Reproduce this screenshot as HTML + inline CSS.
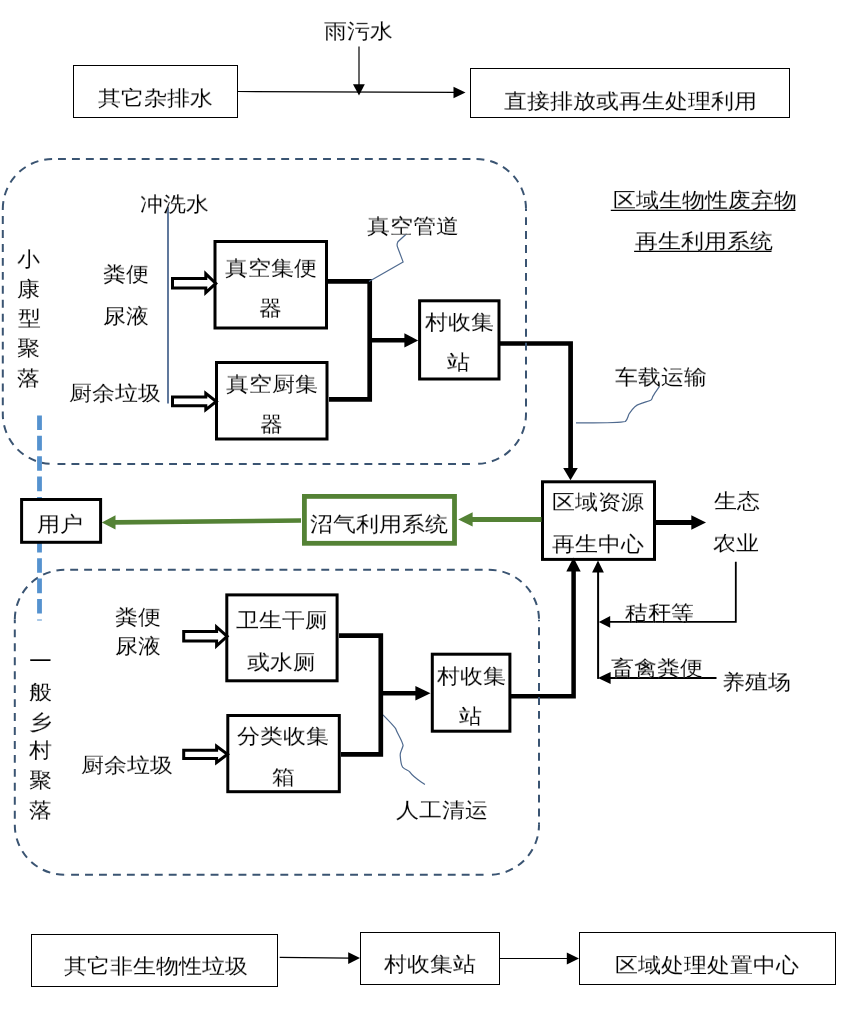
<!DOCTYPE html>
<html><head><meta charset="utf-8"><style>
html,body{margin:0;padding:0;background:#fff;}
body{width:862px;height:1012px;position:relative;overflow:hidden;}
svg{position:absolute;left:0;top:0;}
.t{position:absolute;font-family:"Liberation Sans",sans-serif;font-size:23px;line-height:1;white-space:nowrap;transform-origin:0 0;transform:scaleY(0.9);color:#000;-webkit-text-stroke:0.1px #fff;will-change:transform;}
</style></head><body>
<svg width="862" height="1012" viewBox="0 0 862 1012">
<!-- dashed group outlines -->
<!-- blue thick dashed vertical -->

<!-- top row -->
<rect x="73.5" y="65.5" width="164" height="52" fill="#fff" stroke="#000" stroke-width="1"/>
<rect x="470.5" y="68.5" width="319" height="49" fill="#fff" stroke="#000" stroke-width="1"/>
<line x1="238" y1="91.5" x2="455" y2="92.3" stroke="#000" stroke-width="1.2"/>
<polygon points="465.5,92.5 453.5,86.7 453.5,98.3" fill="#000"/>
<line x1="359" y1="46.5" x2="359" y2="85" stroke="#000" stroke-width="1.2"/>
<polygon points="359,95.6 353,84.3 364.8,84.3" fill="#000"/>

<!-- thin blue vertical (冲洗水) -->
<line x1="168" y1="207" x2="168" y2="403.5" stroke="#4f6a92" stroke-width="1.8"/>

<!-- hollow arrows top -->

<!-- thick boxes top -->
<rect x="215" y="241.5" width="111.5" height="86.5" fill="#fff" stroke="#000" stroke-width="3"/>
<rect x="216.5" y="362.5" width="110.5" height="76.5" fill="#fff" stroke="#000" stroke-width="3"/>
<rect x="419.6" y="300.8" width="79.4" height="78.2" fill="#fff" stroke="#000" stroke-width="3"/>

<!-- thick connectors top -->
<polyline points="328,281.4 369.7,281.4 369.7,399.3 329,399.3" fill="none" stroke="#000" stroke-width="4.7"/>
<line x1="369.7" y1="340.3" x2="406" y2="340.3" stroke="#000" stroke-width="4.6"/>
<polygon points="418.2,340.4 404.4,333.2 404.4,347.6" fill="#000"/>
<polyline points="500,343.5 570.6,343.5 570.6,469" fill="none" stroke="#000" stroke-width="4.7"/>
<polygon points="570.5,480.2 563.2,468 577.8,468" fill="#000"/>

<!-- wavy callouts -->
<path d="M406.6,233.7 L397.9,241.7 Q396.5,244.5 397.5,247 L403.1,261.9 L369,281.4" fill="none" stroke="#4f6a8f" stroke-width="1.2"/>
<path d="M576,422.9 C600,423 620,423 625.4,421.5 C628,419 628,415 629.6,413.2 C633,408 636,405 639.4,404.1 C645,402 650,401 651.2,399.9 C653,398 652,397 653.3,395.8 C655,392 658,389 659.5,386.4" fill="none" stroke="#4f6a8f" stroke-width="1.2"/>
<path d="M382.9,714.8 C388,720 393,725 395.7,728.7 C398,735 402,740 403.1,745.5 C402,750 400,752 400.2,755.4 C400.5,760 401,765 402.6,767.2 C405,770 408,770 409.5,771.7 C414,778 420,781 424.9,784.5" fill="none" stroke="#4f6a8f" stroke-width="1.2"/>

<!-- resource center -->
<rect x="542.5" y="481.8" width="112" height="77.6" fill="#fff" stroke="#000" stroke-width="3"/>
<line x1="656" y1="522.5" x2="692" y2="522.5" stroke="#000" stroke-width="4.8"/>
<polygon points="706,522.5 691.3,515.2 691.3,529.8" fill="#000"/>

<!-- green -->
<line x1="541.5" y1="519.6" x2="471" y2="519.6" stroke="#548235" stroke-width="5"/>
<polygon points="458.2,519.4 472.6,512.2 472.6,526.4" fill="#548235"/>
<rect x="304.4" y="496.4" width="150.1" height="46.9" fill="#fff" stroke="#548235" stroke-width="4.8"/>
<line x1="301" y1="520.5" x2="114" y2="522.4" stroke="#548235" stroke-width="4.6"/>
<polygon points="101.8,522.4 115.5,515.3 115.5,529.5" fill="#548235"/>

<!-- right feed arrows -->
<polyline points="735.8,561.8 735.8,621.9 609,621.9" fill="none" stroke="#000" stroke-width="1.8"/>
<polygon points="598.8,621.9 610.2,616 610.2,627.8" fill="#000"/>
<line x1="598.1" y1="571" x2="598.1" y2="678.9" stroke="#000" stroke-width="2"/>
<polygon points="598,560.5 592.1,572.5 603.9,572.5" fill="#000"/>
<line x1="716.5" y1="678" x2="609" y2="678" stroke="#000" stroke-width="2"/>
<polygon points="598,678 610.6,672.1 610.6,683.9" fill="#000"/>

<!-- bottom group -->
<rect x="226.8" y="594.9" width="110.3" height="85.9" fill="#fff" stroke="#000" stroke-width="3"/>
<rect x="227.8" y="715.5" width="111.5" height="76.2" fill="#fff" stroke="#000" stroke-width="3"/>
<polyline points="339,635.7 380.8,635.7 380.8,754.3 341,754.3" fill="none" stroke="#000" stroke-width="4.7"/>
<line x1="380.8" y1="693.3" x2="417" y2="693.3" stroke="#000" stroke-width="4.6"/>
<polygon points="430.5,693.3 415.4,686 415.4,700.6" fill="#000"/>
<rect x="432.3" y="654.2" width="77.6" height="77" fill="#fff" stroke="#000" stroke-width="3"/>
<polyline points="511,696.2 573.6,696.2 573.6,570" fill="none" stroke="#000" stroke-width="4.5"/>
<polygon points="573.5,557.5 566.3,571.5 580.7,571.5" fill="#000"/>

<!-- bottom row -->
<rect x="31.5" y="934.5" width="246" height="52" fill="#fff" stroke="#000" stroke-width="1"/>
<line x1="279.7" y1="957.3" x2="350" y2="958.1" stroke="#000" stroke-width="1.2"/>
<polygon points="360,958.1 348.2,952.2 348.2,963.9" fill="#000"/>
<rect x="360.5" y="932.5" width="139" height="52" fill="#fff" stroke="#000" stroke-width="1"/>
<line x1="500" y1="958.5" x2="568" y2="958.5" stroke="#000" stroke-width="1.1"/>
<polygon points="579,958.5 566.8,952.5 566.8,964.5" fill="#000"/>
<rect x="579.5" y="932.5" width="256" height="52" fill="#fff" stroke="#000" stroke-width="1"/>
<line x1="610.8" y1="210.4" x2="795.5" y2="210.4" stroke="#000" stroke-width="1.3"/>
<line x1="634.1" y1="251.4" x2="771.5" y2="251.4" stroke="#000" stroke-width="1.3"/>
<!-- hollow arrows -->
<polygon points="172.5,278.6 205.8,278.6 205.8,273.8 215.8,283.4 205.8,292.5 205.8,288.1 172.5,288.1" fill="#fff" stroke="#000" stroke-width="3" stroke-miterlimit="10"/>
<polygon points="172.5,396.9 205.8,396.9 205.8,393.4 216.3,401.5 205.8,409.7 205.8,405.7 172.5,405.7" fill="#fff" stroke="#000" stroke-width="3" stroke-miterlimit="10"/>
<polygon points="183.7,631.5 216.6,631.5 216.6,627 227.1,636.3 216.6,645.9 216.6,641.1 183.7,641.1" fill="#fff" stroke="#000" stroke-width="3" stroke-miterlimit="10"/>
<polygon points="183.7,750.2 216.6,750.2 216.6,746.2 227.5,754.3 216.6,762.5 216.6,758.5 183.7,758.5" fill="#fff" stroke="#000" stroke-width="3" stroke-miterlimit="10"/>
<path d="M52.8,159 L476,159" fill="none" stroke="#3a5472" stroke-width="2" stroke-dasharray="7.9 6.05" stroke-dashoffset="8.75"/>
<path d="M526,209 L526,413.9" fill="none" stroke="#3a5472" stroke-width="2" stroke-dasharray="7.9 6.05" stroke-dashoffset="5.80"/>
<path d="M52.8,463.9 L476,463.9" fill="none" stroke="#3a5472" stroke-width="2" stroke-dasharray="7.9 6.05" stroke-dashoffset="9.25"/>
<path d="M2.8,209 L2.8,413.9" fill="none" stroke="#3a5472" stroke-width="2" stroke-dasharray="7.9 6.05" stroke-dashoffset="6.85"/>
<path d="M476,159 A50,50 0 0 1 526,209" fill="none" stroke="#3a5472" stroke-width="2" stroke-dasharray="7.9 6.05" stroke-dashoffset="13.45"/>
<path d="M526,413.9 A50,50 0 0 1 476,463.9" fill="none" stroke="#3a5472" stroke-width="2" stroke-dasharray="7.9 6.05" stroke-dashoffset="1.45"/>
<path d="M2.8,413.9 A50,50 0 0 0 52.8,463.9" fill="none" stroke="#3a5472" stroke-width="2" stroke-dasharray="7.9 6.05" stroke-dashoffset="2.50"/>
<path d="M2.8,209 A50,50 0 0 1 52.8,159" fill="none" stroke="#3a5472" stroke-width="2" stroke-dasharray="7.9 6.05" stroke-dashoffset="13.91"/>
<path d="M64.8,569.8 L489,569.8" fill="none" stroke="#3a5472" stroke-width="2" stroke-dasharray="7.9 6.05" stroke-dashoffset="8.55"/>
<path d="M539,619.8 L539,824.8" fill="none" stroke="#3a5472" stroke-width="2" stroke-dasharray="7.9 6.05" stroke-dashoffset="6.50"/>
<path d="M64.8,874.8 L489,874.8" fill="none" stroke="#3a5472" stroke-width="2" stroke-dasharray="7.9 6.05" stroke-dashoffset="7.65"/>
<path d="M14.8,619.8 L14.8,824.8" fill="none" stroke="#3a5472" stroke-width="2" stroke-dasharray="7.9 6.05" stroke-dashoffset="4.35"/>
<path d="M489,569.8 A50,50 0 0 1 539,619.8" fill="none" stroke="#3a5472" stroke-width="2" stroke-dasharray="7.9 6.05" stroke-dashoffset="0.30"/>
<path d="M539,824.8 A50,50 0 0 1 489,874.8" fill="none" stroke="#3a5472" stroke-width="2" stroke-dasharray="7.9 6.05" stroke-dashoffset="2.25"/>
<path d="M14.8,824.8 A50,50 0 0 0 64.8,874.8" fill="none" stroke="#3a5472" stroke-width="2" stroke-dasharray="7.9 6.05" stroke-dashoffset="0.10"/>
<path d="M14.8,619.8 A50,50 0 0 1 64.8,569.8" fill="none" stroke="#3a5472" stroke-width="2" stroke-dasharray="7.9 6.05" stroke-dashoffset="13.71"/>
<line x1="39.5" y1="415.4" x2="39.5" y2="620.5" stroke="#5592cf" stroke-width="4.8" stroke-dasharray="14.6 5.8"/>
<rect x="21.6" y="499.5" width="79" height="42.8" fill="#fff" stroke="#000" stroke-width="3"/>
</svg>

<div class="t" style="left:324.25px;top:21.40px">雨污水</div>
<div class="t" style="left:97.50px;top:88.05px">其它杂排水</div>
<div class="t" style="left:504.00px;top:90.75px">直接排放或再生处理利用</div>
<div class="t" style="left:612.75px;top:190.45px">区域生物性废弃物</div>
<div class="t" style="left:634.50px;top:231.25px">再生利用系统</div>
<div class="t" style="left:139.75px;top:193.50px">冲洗水</div>
<div class="t" style="left:102.75px;top:264.40px">粪便</div>
<div class="t" style="left:102.75px;top:306.20px">尿液</div>
<div class="t" style="left:69.35px;top:382.70px">厨余垃圾</div>
<div class="t" style="left:224.60px;top:257.90px">真空集便</div>
<div class="t" style="left:258.60px;top:298.25px">器</div>
<div class="t" style="left:225.65px;top:373.75px">真空厨集</div>
<div class="t" style="left:259.80px;top:414.05px">器</div>
<div class="t" style="left:367.25px;top:215.65px">真空管道</div>
<div class="t" style="left:425.25px;top:312.40px">村收集</div>
<div class="t" style="left:447.15px;top:352.45px">站</div>
<div class="t" style="left:614.90px;top:367.35px">车载运输</div>
<div class="t" style="left:552.40px;top:492.30px">区域资源</div>
<div class="t" style="left:552.45px;top:533.95px">再生中心</div>
<div class="t" style="left:713.70px;top:491.00px">生态</div>
<div class="t" style="left:713.20px;top:532.70px">农业</div>
<div class="t" style="left:36.70px;top:514.40px">用户</div>
<div class="t" style="left:309.90px;top:513.55px">沼气利用系统</div>
<div class="t" style="left:625.20px;top:602.80px">秸秆等</div>
<div class="t" style="left:611.40px;top:658.00px">畜禽粪便</div>
<div class="t" style="left:721.95px;top:672.35px">养殖场</div>
<div class="t" style="left:114.55px;top:607.40px">粪便</div>
<div class="t" style="left:114.55px;top:635.90px">尿液</div>
<div class="t" style="left:80.95px;top:754.75px">厨余垃圾</div>
<div class="t" style="left:236.00px;top:610.25px">卫生干厕</div>
<div class="t" style="left:247.15px;top:651.65px">或水厕</div>
<div class="t" style="left:237.30px;top:726.45px">分类收集</div>
<div class="t" style="left:271.50px;top:766.60px">箱</div>
<div class="t" style="left:436.70px;top:666.00px">村收集</div>
<div class="t" style="left:458.55px;top:705.75px">站</div>
<div class="t" style="left:395.65px;top:800.40px">人工清运</div>
<div class="t" style="left:63.70px;top:955.90px">其它非生物性垃圾</div>
<div class="t" style="left:383.70px;top:954.05px">村收集站</div>
<div class="t" style="left:615.05px;top:954.75px">区域处理处置中心</div>
<div class="t" style="left:17.30px;top:248.50px">小</div>
<div class="t" style="left:17.30px;top:278.70px">康</div>
<div class="t" style="left:17.80px;top:308.30px">型</div>
<div class="t" style="left:17.30px;top:337.80px">聚</div>
<div class="t" style="left:17.30px;top:367.80px">落</div>
<div class="t" style="left:28.80px;top:651.00px">一</div>
<div class="t" style="left:28.80px;top:681.80px">般</div>
<div class="t" style="left:28.80px;top:711.50px">乡</div>
<div class="t" style="left:28.80px;top:740.30px">村</div>
<div class="t" style="left:28.80px;top:770.30px">聚</div>
<div class="t" style="left:28.80px;top:799.80px">落</div>
</body></html>
